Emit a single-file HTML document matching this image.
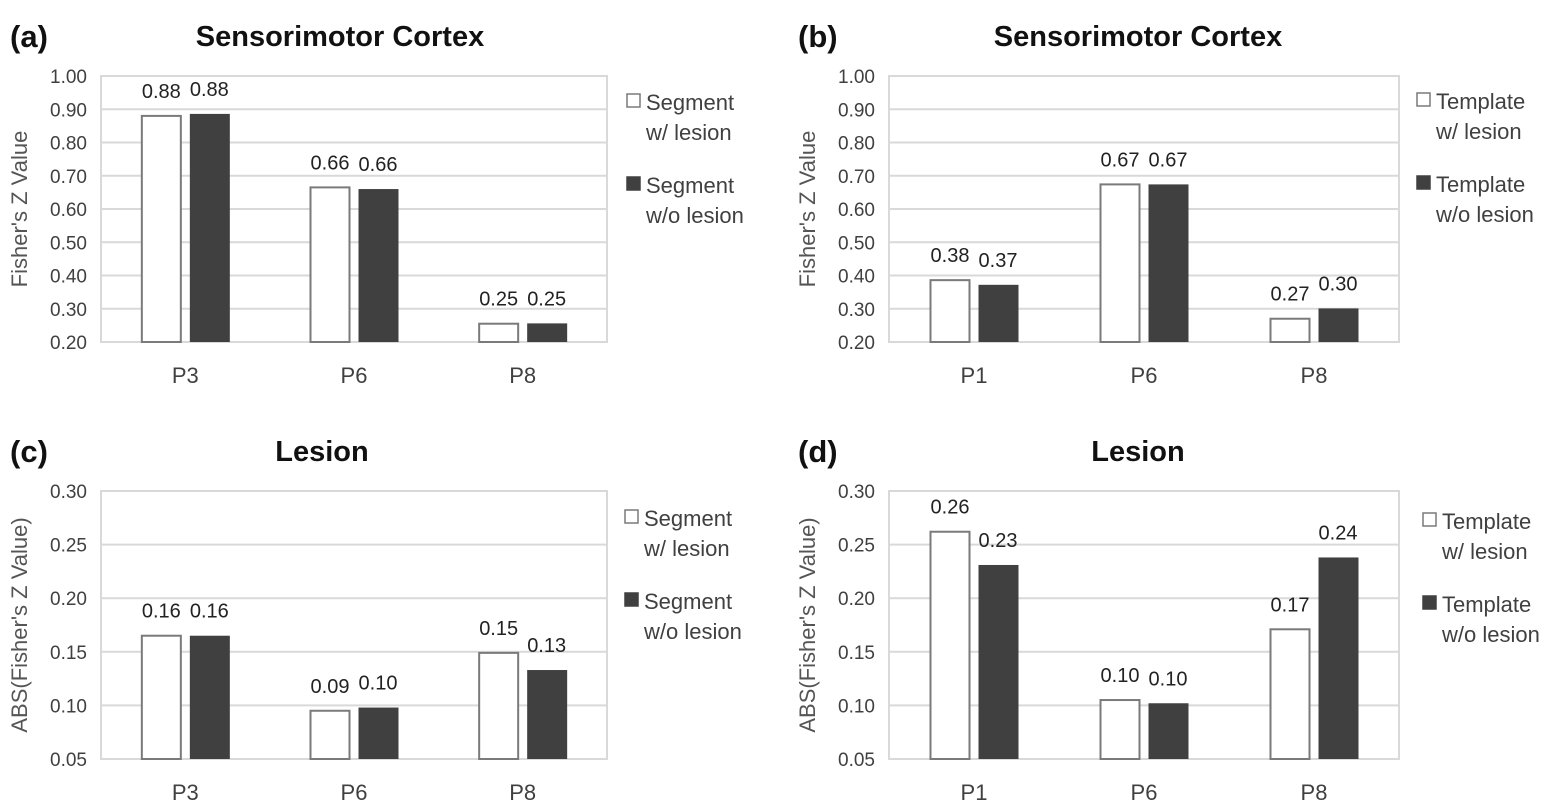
<!DOCTYPE html>
<html><head><meta charset="utf-8">
<style>
html,body{margin:0;padding:0;background:#fff;}
svg{display:block;font-family:"Liberation Sans",sans-serif;}
</style></head>
<body>
<svg id="fig" width="1564" height="808" viewBox="0 0 1564 808" xmlns="http://www.w3.org/2000/svg"></svg>
<script>
const categoriesA = ["P3","P6","P8"];
const withLesionA = [0.88,0.665,0.255];
const withoutLesionA = [0.886,0.66,0.256];
const labelsWithA = ["0.88","0.66","0.25"];
const labelsWithoutA = ["0.88","0.66","0.25"];

const categoriesB = ["P1","P6","P8"];
const withLesionB = [0.386,0.674,0.27];
const withoutLesionB = [0.372,0.674,0.301];
const labelsWithB = ["0.38","0.67","0.27"];
const labelsWithoutB = ["0.37","0.67","0.30"];

const categoriesC = ["P3","P6","P8"];
const withLesionC = [0.165,0.095,0.149];
const withoutLesionC = [0.165,0.098,0.133];
const labelsWithC = ["0.16","0.09","0.15"];
const labelsWithoutC = ["0.16","0.10","0.13"];

const categoriesD = ["P1","P6","P8"];
const withLesionD = [0.262,0.105,0.171];
const withoutLesionD = [0.231,0.102,0.238];
const labelsWithD = ["0.26","0.10","0.17"];
const labelsWithoutD = ["0.23","0.10","0.24"];

const ticksAB = ["0.20","0.30","0.40","0.50","0.60","0.70","0.80","0.90","1.00"];
const ticksCD = ["0.05","0.10","0.15","0.20","0.25","0.30"];

const NS="http://www.w3.org/2000/svg";
const svg=document.getElementById('fig');
function mk(tag,attrs,parent){const e=document.createElementNS(NS,tag);for(const k in attrs)e.setAttribute(k,attrs[k]);(parent||svg).appendChild(e);return e;}

function panel(o){
  const g=mk('g',{});
  
  
  const ymin=parseFloat(o.ticks[0]), ymax=parseFloat(o.ticks[o.ticks.length-1]);
  const y=v=>o.bottom-(v-ymin)/(ymax-ymin)*(o.bottom-o.top);
  const cw=(o.right-o.left)/o.cats.length;
  const x=i=>o.left+cw*(i+0.5);
  let t=mk('text',{x:o.left-91,y:o.top-29,'font-size':31,'font-weight':'bold',fill:'#111'},g);t.textContent=o.letter;
  
  
  t=mk('text',{x:o.titleX,y:o.top-30,'font-size':29,'font-weight':'bold',fill:'#111','text-anchor':'middle'},g);t.textContent=o.title;
  
  
  o.ticks.forEach(tk=>{
    const yy=y(parseFloat(tk));
    const l=mk('line',{x1:o.left,x2:o.right,y1:yy,y2:yy,stroke:'#d9d9d9','stroke-width':2},g);
    
    
    const tx=mk('text',{x:o.left-14,y:yy+7,'font-size':19,fill:'#404040','text-anchor':'end'},g);tx.textContent=tk;
    
    
  });
  const frame=mk('rect',{x:o.left,y:o.top,width:o.right-o.left,height:o.bottom-o.top,fill:'none',stroke:'#d9d9d9','stroke-width':2},g);
  
  
  const cy=(o.top+o.bottom)/2;
  const ax=o.left-74;
  t=mk('text',{x:ax,y:cy,'font-size':22,fill:'#555','text-anchor':'middle',transform:`rotate(-90 ${ax} ${cy})`},g);t.textContent=o.ytitle;
  
  
  const bw=39, gap=9;
  o.cats.forEach((c,i)=>{
    const cx=x(i);
    const v1=o.s1[i], v2=o.s2[i];
    const b1=mk('rect',{x:cx-gap/2-bw,y:y(v1),width:bw,height:o.bottom-y(v1),fill:'#fff',stroke:'#7a7a7a','stroke-width':2},g);
    
    
    const b2=mk('rect',{x:cx+gap/2,y:y(v2),width:bw+1,height:o.bottom-y(v2),fill:'#404040'},g);
    
    
    const l1=mk('text',{x:cx-gap/2-bw/2,y:y(v1)-18,'font-size':20,fill:'#222','text-anchor':'middle'},g);l1.textContent=o.l1[i];
    
    
    const l2=mk('text',{x:cx+gap/2+bw/2,y:y(v2)-18,'font-size':20,fill:'#222','text-anchor':'middle'},g);l2.textContent=o.l2[i];
    
    
    const cl=mk('text',{x:cx,y:o.bottom+41,'font-size':22,fill:'#404040','text-anchor':'middle'},g);cl.textContent=c;
    
    
  });
  const lg=mk('g',{},g);
  
  
  [[o.leg1,'#fff',o.legY],[o.leg2,'#404040',o.legY+83]].forEach(([txt,fill,ly],k)=>{
    const sq=mk('rect',{x:o.legX,y:ly-7,width:13,height:13,fill:fill,stroke:k?'#404040':'#7a7a7a','stroke-width':1.5},lg);
    
    
    const a=mk('text',{x:o.legX+19,y:ly+9,'font-size':22,fill:'#404040'},lg);a.textContent=txt[0];
    
    
    const b=mk('text',{x:o.legX+19,y:ly+39,'font-size':22,fill:'#404040'},lg);b.textContent=txt[1];
    
    
  });
}
panel({id:'a',letter:'(a)',title:'Sensorimotor Cortex',titleX:340,left:101,right:607,top:76,bottom:342,ticks:ticksAB,cats:categoriesA,s1:withLesionA,s2:withoutLesionA,l1:labelsWithA,l2:labelsWithoutA,ytitle:"Fisher's Z Value",legX:627,legY:101,leg1:['Segment','w/ lesion'],leg2:['Segment','w/o lesion']});
panel({id:'b',letter:'(b)',title:'Sensorimotor Cortex',titleX:1138,left:889,right:1399,top:76,bottom:342,ticks:ticksAB,cats:categoriesB,s1:withLesionB,s2:withoutLesionB,l1:labelsWithB,l2:labelsWithoutB,ytitle:"Fisher's Z Value",legX:1417,legY:100,leg1:['Template','w/ lesion'],leg2:['Template','w/o lesion']});
panel({id:'c',letter:'(c)',title:'Lesion',titleX:322,left:101,right:607,top:491,bottom:759,ticks:ticksCD,cats:categoriesC,s1:withLesionC,s2:withoutLesionC,l1:labelsWithC,l2:labelsWithoutC,ytitle:"ABS(Fisher's Z Value)",legX:625,legY:517,leg1:['Segment','w/ lesion'],leg2:['Segment','w/o lesion']});
panel({id:'d',letter:'(d)',title:'Lesion',titleX:1138,left:889,right:1399,top:491,bottom:759,ticks:ticksCD,cats:categoriesD,s1:withLesionD,s2:withoutLesionD,l1:labelsWithD,l2:labelsWithoutD,ytitle:"ABS(Fisher's Z Value)",legX:1423,legY:520,leg1:['Template','w/ lesion'],leg2:['Template','w/o lesion']});
</script>
</body></html>
